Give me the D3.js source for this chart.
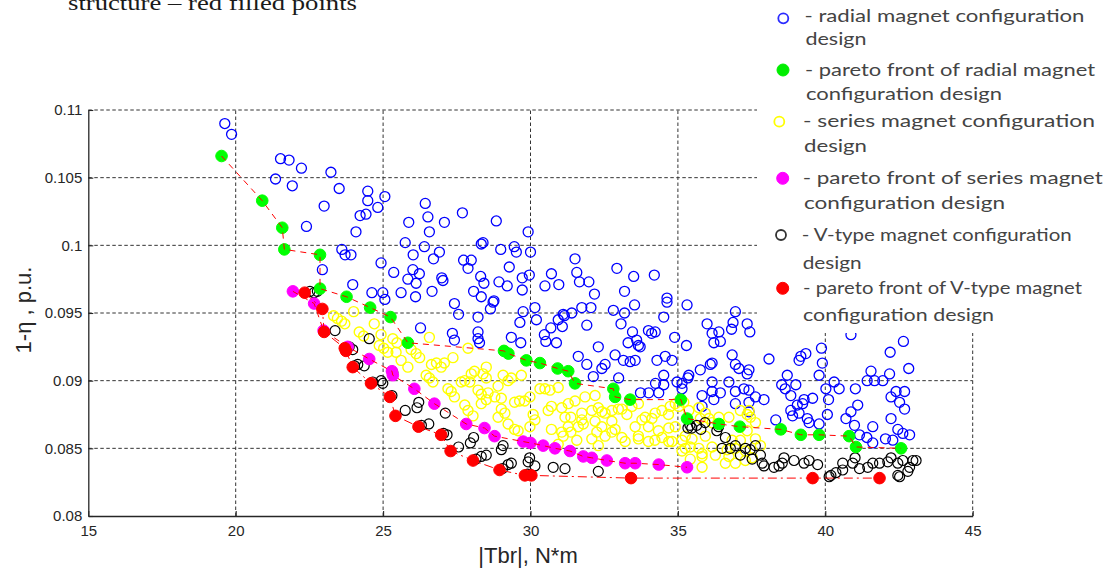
<!DOCTYPE html>
<html><head><meta charset="utf-8">
<script src="https://cdn.jsdelivr.net/npm/d3@7"></script>
<style>html,body{margin:0;padding:0;background:#fff;}svg{display:block;}</style>
</head><body>
<svg id="chart" width="1115" height="572"></svg>
<script>
// ---------------- DATA ----------------
const xTicks = [15, 20, 25, 30, 35, 40, 45];
const yTicks = [0.08, 0.085, 0.09, 0.095, 0.1, 0.105, 0.11];

// radial magnet configuration designs (blue open circles) [|Tbr|, 1-eta]
const radialDesigns = [[19.63,0.1090],[19.86,0.1082],[21.52,0.1064],[21.81,0.1063],[22.23,0.1057],[21.35,0.1049],[21.92,0.1044],[23.00,0.1029],[22.40,0.1014],[23.23,0.1054],[22.94,0.0982],[23.51,0.1042],[24.48,0.1040],[24.48,0.1033],[25.06,0.1036],[24.82,0.1028],[24.42,0.1023],[24.22,0.1022],[24.08,0.1010],[26.43,0.1031],[26.52,0.1021],[25.87,0.1017],[27.08,0.1017],[27.69,0.1024],[28.84,0.1018],[26.57,0.1010],[29.92,0.1010],[25.75,0.1002],[26.40,0.0999],[26.91,0.0995],[26.71,0.0990],[26.02,0.0993],[28.33,0.1001],[28.39,0.1002],[28.99,0.0997],[29.45,0.0999],[29.52,0.0995],[30.00,0.0995],[27.73,0.0989],[27.99,0.0989],[27.88,0.0983],[29.28,0.0984],[23.60,0.0997],[23.71,0.0993],[23.91,0.0993],[24.93,0.0987],[25.36,0.0980],[26.01,0.0982],[26.23,0.0979],[25.84,0.0975],[26.12,0.0972],[26.99,0.0976],[27.03,0.0974],[28.31,0.0977],[28.42,0.0972],[28.93,0.0973],[29.21,0.0970],[29.72,0.0976],[29.96,0.0978],[29.72,0.0967],[26.66,0.0966],[25.61,0.0965],[26.10,0.0962],[24.62,0.0965],[24.99,0.0965],[25.06,0.0960],[23.97,0.0971],[28.07,0.0966],[28.33,0.0962],[28.76,0.0959],[28.64,0.0953],[27.42,0.0957],[27.56,0.0949],[28.22,0.0947],[29.75,0.0951],[30.15,0.0954],[30.49,0.0970],[30.71,0.0979],[30.96,0.0971],[31.51,0.0990],[31.57,0.0980],[31.66,0.0973],[31.98,0.0973],[32.17,0.0964],[31.74,0.0954],[32.05,0.0954],[32.93,0.0983],[33.50,0.0977],[34.20,0.0978],[33.19,0.0966],[32.81,0.0952],[33.19,0.0950],[33.53,0.0956],[34.63,0.0961],[34.63,0.0958],[35.31,0.0956],[36.95,0.0951],[31.11,0.0949],[31.40,0.0950],[34.52,0.0947],
[26.27,0.0939],[27.35,0.0935],[27.42,0.0930],[28.22,0.0931],[28.27,0.0928],[29.35,0.0932],[29.67,0.0928],[29.64,0.0943],[30.20,0.0945],[30.47,0.0934],[30.52,0.0929],[30.69,0.0939],[30.88,0.0928],[30.94,0.0945],[31.08,0.0940],[31.15,0.0948],[31.91,0.0941],[32.30,0.0925],[33.07,0.0942],[33.46,0.0936],[33.31,0.0928],[33.60,0.0930],[33.66,0.0926],[34.00,0.0937],[34.11,0.0935],[34.23,0.0936],[34.89,0.0932],[35.29,0.0926],[35.99,0.0942],[36.16,0.0935],[36.39,0.0936],[36.44,0.0929],[36.22,0.0928],[36.82,0.0938],[36.87,0.0943],[37.35,0.0942],[37.44,0.0936],
[28.22,0.0936],[28.73,0.0958],[31.62,0.0918],[31.91,0.0912],[32.13,0.0903],[32.42,0.0909],[32.87,0.0919],[33.15,0.0915],[33.55,0.0915],[33.72,0.0925],[34.29,0.0915],[34.57,0.0918],[34.80,0.0915],[34.52,0.0904],[34.97,0.0899],[35.37,0.0904],[35.14,0.0894],[36.84,0.0919],[36.95,0.0912],[35.76,0.0908],[36.16,0.0913],[36.16,0.0899],[36.73,0.0899],[35.82,0.0889],[36.22,0.0886],[36.95,0.0883],[37.41,0.0908],[37.24,0.0894],
[32.53,0.0912],[32.99,0.0902],[33.38,0.0914],[33.73,0.0891],[34.01,0.0891],[34.24,0.0898],[34.52,0.0897],[34.35,0.0891],[35.34,0.0902],[35.14,0.0898],[36.10,0.0912],[37.07,0.0909],[37.35,0.0905],[36.16,0.0892],[35.82,0.0881],[36.44,0.0891],[36.95,0.0892],[37.41,0.0893],[37.63,0.0888],[37.92,0.0886],[37.41,0.0884],[37.41,0.0877],[38.09,0.0916],[38.71,0.0904],[38.83,0.0889],[39.05,0.0882],[38.83,0.0878],[38.32,0.0871],[39.11,0.0876],[39.11,0.0915],[39.00,0.0897],[38.89,0.0874],[39.23,0.0883],
[39.17,0.0918],[39.34,0.0920],[39.87,0.0924],[39.90,0.0913],[39.79,0.0904],[38.52,0.0897],[38.64,0.0894],[39.28,0.0886],[39.57,0.0887],[39.39,0.0872],[39.45,0.0869],[40.02,0.0894],[40.11,0.0886],[40.07,0.0875],[39.79,0.0868],[40.30,0.0899],[40.47,0.0894],[40.87,0.0934],[41.02,0.0894],[41.10,0.0882],[40.87,0.0877],[40.70,0.0872],[40.99,0.0867],[41.16,0.0860],[41.41,0.0858],[41.61,0.0866],[41.55,0.0907],[41.42,0.0900],[41.67,0.0900],[41.95,0.0900],[42.18,0.0905],[42.20,0.0921],[42.65,0.0929],[42.83,0.0909],[42.23,0.0888],[42.40,0.0892],[42.69,0.0892],[42.52,0.0884],[42.69,0.0879],[42.23,0.0872],[42.46,0.0864],[42.63,0.0861],[42.86,0.0860],[42.04,0.0857],[42.29,0.0856],[41.61,0.0854]];

// pareto front of radial designs (green filled)
const radialPareto = [[19.52,0.1066],[20.90,0.1033],[21.58,0.1013],[21.65,0.0997],[22.86,0.0993],[22.86,0.0968],[23.76,0.0962],[24.56,0.0954],[25.25,0.0947],[25.84,0.0928],[29.10,0.0922],[29.25,0.0920],[29.86,0.0915],[30.32,0.0913],[30.92,0.0909],[31.28,0.0907],[31.51,0.0898],[32.81,0.0894],[32.87,0.0888],[33.38,0.0886],[35.10,0.0886],[35.31,0.0872],[36.39,0.0868],[37.10,0.0866],[38.49,0.0864],[39.17,0.0860],[39.79,0.0860],[40.81,0.0859],[41.04,0.0851],[42.57,0.0850]];

// series magnet configuration designs (yellow open)
const seriesDesigns = [[23.32,0.0948],[23.45,0.0946],[23.59,0.0944],[23.70,0.0942],[24.00,0.0951],[24.70,0.0942],[24.19,0.0936],[24.34,0.0933],[24.87,0.0926],[25.02,0.0924],[25.16,0.0921],[25.33,0.0931],[25.61,0.0915],[25.84,0.0910],[24.93,0.0934],[25.47,0.0928],[25.95,0.0923],[26.12,0.0920],[26.24,0.0917],[26.57,0.0932],[26.46,0.0904],[26.57,0.0902],[26.69,0.0899],[26.97,0.0910],[27.08,0.0913],[27.37,0.0917],[27.20,0.0894],[27.31,0.0892],[27.42,0.0888],[27.88,0.0924],[28.10,0.0907],[28.50,0.0910],[28.39,0.0905],[27.77,0.0900],[27.94,0.0899],[28.50,0.0902],[27.77,0.0882],[27.88,0.0878],[28.05,0.0874],[28.56,0.0891],[28.79,0.0888],[29.01,0.0887],[29.01,0.0879],[29.13,0.0876],[29.24,0.0868],[29.07,0.0904],[29.35,0.0902],[29.69,0.0904],[28.33,0.0883],[29.46,0.0884],[29.63,0.0885],[29.80,0.0885],[29.98,0.0888],[30.15,0.0871],[30.09,0.0875],[29.46,0.0864],[29.58,0.0863],[30.32,0.0894],[30.49,0.0894],[30.66,0.0893],[30.94,0.0895],[30.71,0.0881],[31.06,0.0880],[31.28,0.0883],[30.60,0.0878],[31.17,0.0873],[31.28,0.0866],[31.62,0.0866],[31.79,0.0868],[31.06,0.0862],[31.51,0.0885],[31.85,0.0888],[32.19,0.0889],[31.74,0.0876],[32.08,0.0878],[32.30,0.0880],[32.19,0.0870],[32.42,0.0866],[32.76,0.0870],[32.87,0.0864],[32.53,0.0859],[33.10,0.0858],[32.98,0.0879],[33.27,0.0875],[33.44,0.0881],[33.66,0.0883],[33.89,0.0873],[34.00,0.0866],[33.55,0.0866],[34.23,0.0876],[34.46,0.0878],[34.68,0.0875],[34.34,0.0863],[33.66,0.0857],[34.00,0.0855],[34.46,0.0858],[34.80,0.0855],[35.25,0.0859],[35.42,0.0851],[35.14,0.0848],[35.93,0.0859],[35.82,0.0846],[36.61,0.0839],[36.95,0.0839],[36.73,0.0844],[36.95,0.0850],[37.29,0.0848],[37.46,0.0873],[34.74,0.0881],[34.91,0.0883],[35.20,0.0884],[35.76,0.0872],[35.93,0.0876],[36.39,0.0873],[36.73,0.0873],[37.12,0.0878],
[33.10,0.0879],[32.76,0.0878],[32.53,0.0876],[32.76,0.0862],[33.21,0.0855],[33.78,0.0871],[34.12,0.0872],[35.03,0.0881],[34.69,0.0865],[34.91,0.0866],[33.66,0.0859],[34.22,0.0856],[34.69,0.0855],[35.14,0.0856],[35.48,0.0857],[35.25,0.0850],[35.71,0.0850],[36.16,0.0851],[35.42,0.0842],[35.82,0.0844],[36.27,0.0845],[36.67,0.0849],[37.29,0.0841],[35.82,0.0836],[35.37,0.0878],[35.71,0.0880],[36.05,0.0872],[36.84,0.0856],[37.12,0.0856],[37.41,0.0878],[37.35,0.0875],[37.63,0.0869],[36.16,0.0869],[37.35,0.0863],[37.63,0.0857],[37.80,0.0852],[37.52,0.0843],
[25.44,0.0921],[26.64,0.0912],[26.81,0.0913],[27.65,0.0899],[27.99,0.0905],[28.22,0.0893],[28.33,0.0890],[28.50,0.0886],[28.90,0.0896],[29.24,0.0900],[28.90,0.0873],[29.98,0.0866],[31.37,0.0873],[31.74,0.0871],[32.42,0.0877],[30.71,0.0864],[31.37,0.0862],[32.25,0.0862],[31.11,0.0859],[31.57,0.0856],[32.08,0.0857],[32.30,0.0852],[30.94,0.0853]];

// pareto front of series designs (magenta filled)
const seriesPareto = [[21.94,0.0966],[22.66,0.0957],[22.98,0.0937],[23.80,0.0925],[24.53,0.0916],[25.30,0.0907],[25.33,0.0904],[26.06,0.0894],[26.74,0.0883],[27.82,0.0868],[28.44,0.0865],[28.78,0.0859],[29.75,0.0855],[30.00,0.0854],[30.43,0.0852],[30.83,0.0850],[31.34,0.0848],[31.79,0.0844],[32.08,0.0843],[32.59,0.0841],[33.21,0.0839],[33.55,0.0839],[34.35,0.0838],[35.31,0.0836]];

// V-type magnet configuration designs (black open)
const vtypeDesigns = [[22.52,0.0966],[22.66,0.0965],[22.77,0.0966],[23.37,0.0937],[23.97,0.0923],[24.53,0.0931],[24.36,0.0911],[24.14,0.0912],[24.93,0.0900],[24.99,0.0898],[25.33,0.0906],[25.75,0.0878],[26.15,0.0880],[26.21,0.0884],[26.55,0.0868],[27.17,0.0860],[27.11,0.0876],[27.56,0.0851],[27.96,0.0854],[28.07,0.0858],[28.33,0.0844],[28.50,0.0845],[29.07,0.0852],[29.01,0.0849],[29.24,0.0838],[29.35,0.0839],[29.92,0.0840],[29.97,0.0843],[30.15,0.0837],[30.77,0.0836],[31.17,0.0835],[32.30,0.0833],
[23.85,0.0925],[24.03,0.0911],[24.65,0.0899],[25.30,0.0889],[26.30,0.0867],[27.05,0.0861],[28.15,0.0842],[29.05,0.0835],[29.90,0.0831],
[35.34,0.0865],[35.47,0.0865],[35.64,0.0867],[35.92,0.0869],[36.32,0.0863],[36.38,0.0866],[36.61,0.0858],[36.50,0.0850],[36.78,0.0850],[36.95,0.0852],[37.29,0.0850],[37.45,0.0849],[37.63,0.0852],[37.12,0.0845],[37.52,0.0842],[37.92,0.0837],[38.26,0.0836],[38.43,0.0837],[38.60,0.0843],[38.94,0.0841],[37.80,0.0845],[37.86,0.0839],[38.54,0.0839],[39.28,0.0839],[39.45,0.0841],[39.74,0.0838],[40.19,0.0830],[40.36,0.0832],[40.59,0.0834],[40.59,0.0839],[40.93,0.0839],[41.16,0.0835],[41.44,0.0836],[41.61,0.0839],[41.84,0.0839],[42.12,0.0840],[42.23,0.0843],[42.46,0.0839],[42.46,0.0830],[42.86,0.0836],[42.97,0.0841],[42.63,0.0841],[43.08,0.0841],[42.80,0.0833],[42.52,0.0829],[41.01,0.0843],[40.13,0.0829],[35.41,0.0867],[35.78,0.0864]];

// pareto front of V-type designs (red filled)
const vtypePareto = [[22.34,0.0965],[22.94,0.0953],[23.00,0.0936],[23.70,0.0924],[23.74,0.0922],[23.97,0.0910],[24.59,0.0898],[25.23,0.0888],[25.42,0.0874],[26.20,0.0866],[26.97,0.0860],[27.29,0.0848],[28.05,0.0841],[28.95,0.0834],[29.81,0.0830],[30.03,0.0830],[33.41,0.0828],[39.57,0.0828],[41.84,0.0828]];

const legendLabels = [
  ["- radial magnet configuration", "design"],
  ["- pareto front of radial magnet", "configuration design"],
  ["- series magnet configuration", "design"],
  ["- pareto front of series magnet", "configuration design"],
  ["- V-type magnet configuration", "design"],
  ["- pareto front of V-type magnet", "configuration design"]
];
const topNote = "structure \u2013 red filled points";
const xLabel = "|Tbr|, N*m";
const yLabel = "1-\u03B7 , p.u.";

// ---------------- DRAW ----------------
const svg = d3.select("#chart");
const x = d3.scaleLinear().domain([15, 45]).range([88.3, 972.7]);
const y = d3.scaleLinear().domain([0.08, 0.11]).range([516, 110]);
const axisColor = "#262626";

// grid
const grid = svg.append("g");
grid.selectAll("line.v").data(xTicks.filter(d => d !== 15)).join("line")
  .attr("x1", d => x(d)).attr("x2", d => x(d))
  .attr("y1", y(0.08)).attr("y2", y(0.11))
  .attr("stroke", "#333").attr("stroke-width", 1).attr("stroke-dasharray", "3.5,2.5");
grid.selectAll("line.h").data(yTicks.filter(d => d !== 0.08)).join("line")
  .attr("x1", x(15)).attr("x2", x(45))
  .attr("y1", d => y(d)).attr("y2", d => y(d))
  .attr("stroke", "#333").attr("stroke-width", 1).attr("stroke-dasharray", "3.5,2.5");

// axes
const xAxis = svg.append("g").attr("transform", `translate(0,${y(0.08)})`)
  .call(d3.axisBottom(x).tickValues(xTicks).tickSizeInner(-5).tickSizeOuter(0).tickPadding(9).tickFormat(d => d));
const yAxis = svg.append("g").attr("transform", `translate(${x(15)},0)`)
  .call(d3.axisLeft(y).tickValues(yTicks).tickSizeInner(-5).tickSizeOuter(0).tickPadding(6).tickFormat(d => String(+d.toFixed(3))));
[xAxis, yAxis].forEach(g => {
  g.select(".domain").attr("stroke", axisColor).attr("stroke-width", 1.3);
  g.selectAll(".tick line").attr("stroke", axisColor).attr("stroke-width", 1.1);
  g.selectAll(".tick text").attr("font-family", "'Liberation Sans', Arial, sans-serif")
    .attr("font-size", 15).attr("fill", axisColor);
});

// markers
function openPts(data, color, sw) {
  svg.append("g").selectAll("circle").data(data).join("circle")
    .attr("cx", d => x(d[0])).attr("cy", d => y(d[1])).attr("r", 5)
    .attr("fill", "none").attr("stroke", color).attr("stroke-width", sw);
}
function filledPts(data, color) {
  svg.append("g").selectAll("circle").data(data).join("circle")
    .attr("cx", d => x(d[0])).attr("cy", d => y(d[1])).attr("r", 5.8)
    .attr("fill", color).attr("stroke", color).attr("stroke-width", 1);
}
function frontLine(data, dash) {
  svg.append("path").datum(data)
    .attr("d", d3.line().x(d => x(d[0])).y(d => y(d[1])))
    .attr("fill", "none").attr("stroke", "#ff0000").attr("stroke-width", 1)
    .attr("stroke-dasharray", dash);
}
openPts(radialDesigns, "#0000ff", 1.3);
openPts(seriesDesigns, "#ffff00", 1.4);
openPts(vtypeDesigns, "#000000", 1.2);
filledPts(radialPareto, "#00ff00");
filledPts(seriesPareto, "#ff00ff");
filledPts(vtypePareto, "#ff0000");
frontLine(radialPareto, "6,5");
frontLine(seriesPareto, "6,5");
frontLine(vtypePareto, "9,4,2,4");

// legend (white panel over the plot)
const lg = svg.append("g");
lg.append("rect").attr("x", 757).attr("y", 0).attr("width", 358).attr("height", 333).attr("fill", "#fff");
const legendMarks = [
  {c: "#2b2bff", filled: false, mx: 783.3, my: 18.3},
  {c: "#00ee00", filled: true, mx: 783, my: 70},
  {c: "#ffff00", filled: false, mx: 779.3, my: 121.7},
  {c: "#ff00ff", filled: true, mx: 782.7, my: 178.3},
  {c: "#333333", filled: false, mx: 781, my: 235},
  {c: "#ff0000", filled: true, mx: 782.7, my: 288.3}
];
const legendRows = [
  {x1: 804.5, b1: 22, w1: 280, x2: 805.5, b2: 44.5, w2: 61},
  {x1: 805, b1: 75.5, w1: 290, x2: 806, b2: 99.5, w2: 196},
  {x1: 803, b1: 127, w1: 292, x2: 804, b2: 152, w2: 63},
  {x1: 802.7, b1: 184, w1: 300, x2: 804, b2: 209, w2: 201},
  {x1: 801.7, b1: 240.5, w1: 270, x2: 802.7, b2: 269, w2: 59},
  {x1: 803, b1: 294, w1: 279, x2: 803, b2: 320.5, w2: 191}
];
legendLabels.forEach((lab, i) => {
  const m = legendMarks[i], r = legendRows[i];
  lg.append("circle").attr("cx", m.mx).attr("cy", m.my).attr("r", m.filled ? 6 : 5)
    .attr("fill", m.filled ? m.c : "none").attr("stroke", m.c).attr("stroke-width", m.filled ? 1 : 1.8);
  [[lab[0], r.x1, r.b1, r.w1], [lab[1], r.x2, r.b2, r.w2]].forEach(t => {
    lg.append("text").text(t[0]).attr("x", t[1]).attr("y", t[2])
      .attr("font-family", "Lato, 'Open Sans', sans-serif").attr("font-size", 18)
      .attr("fill", "#444").attr("textLength", t[3]).attr("lengthAdjust", "spacingAndGlyphs");
  });
});

// texts
svg.append("text").text(topNote).attr("x", 68).attr("y", 10)
  .attr("font-family", "'Liberation Serif', 'DejaVu Serif', serif").attr("font-size", 22)
  .attr("fill", "#1a1a1a").attr("textLength", 289).attr("lengthAdjust", "spacingAndGlyphs");
svg.append("text").text(xLabel).attr("x", 528).attr("y", 563).attr("text-anchor", "middle")
  .attr("font-family", "'Liberation Sans', Arial, sans-serif").attr("font-size", 22).attr("fill", axisColor);
svg.append("text").text(yLabel).attr("transform", "translate(31,310) rotate(-90)").attr("text-anchor", "middle")
  .attr("font-family", "'Liberation Sans', Arial, sans-serif").attr("font-size", 22).attr("fill", axisColor);
</script>
</body></html>
